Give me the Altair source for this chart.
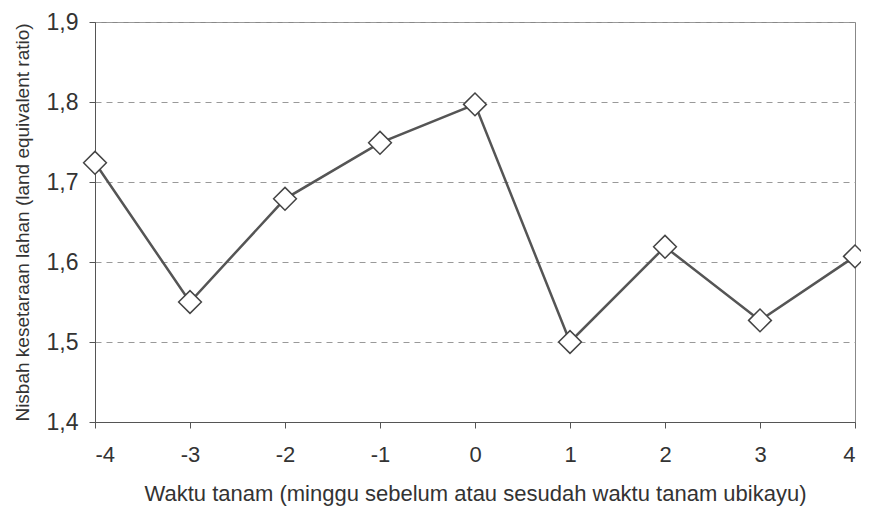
import altair as alt
import pandas as pd

weeks = [-4, -3, -2, -1, 0, 1, 2, 3, 4]
ler = [1.724, 1.55, 1.679, 1.749, 1.797, 1.50, 1.619, 1.527, 1.607]

df = pd.DataFrame({"week": weeks, "ler": ler})

font = "Liberation Sans"

x = alt.X("week:Q", scale=alt.Scale(domain=[-4, 4], nice=False),
          axis=alt.Axis(values=weeks, title="Waktu tanam (minggu sebelum atau sesudah waktu tanam ubikayu)",
                        labelExpr="datum.value + ''", grid=False, tickSize=6,
                        labelFontSize=22, labelPadding=16, titleFontSize=22, titlePadding=18,
                        labelFont=font, titleFont=font, titleFontWeight="normal",
                        domainColor="#555", tickColor="#555", labelColor="#333", titleColor="#333"))
y = alt.Y("ler:Q", scale=alt.Scale(domain=[1.4, 1.9], nice=False, zero=False),
          axis=alt.Axis(values=[1.4, 1.5, 1.6, 1.7, 1.8, 1.9],
                        title="Nisbah kesetaraan lahan (land equivalent ratio)",
                        labelExpr="replace(format(datum.value, '.1f'), '.', ',')",
                        grid=True, gridDash=[6, 5], gridColor="#999", gridWidth=1,
                        tickSize=6, labelFontSize=23, labelPadding=11, titleFontSize=19, titlePadding=14,
                        labelFont=font, titleFont=font, titleFontWeight="normal",
                        domainColor="#555", tickColor="#555", labelColor="#333", titleColor="#333"))

line = alt.Chart(df).mark_line(color="#555", strokeWidth=2.5).encode(x=x, y=y)
pts = alt.Chart(df).mark_point(shape="diamond", size=520, filled=True, fill="white",
                               stroke="#444", strokeWidth=1.5, opacity=1).encode(x=x, y=y)

chart = (line + pts).properties(
    width=760, height=400,
    autosize=alt.AutoSizeParams(type="none"),
    padding={"left": 87, "top": 14, "right": 6, "bottom": 90},
).configure_view(stroke="#888", strokeWidth=1)

chart.save("out.html", embed_options={"renderer": "svg", "actions": False})
